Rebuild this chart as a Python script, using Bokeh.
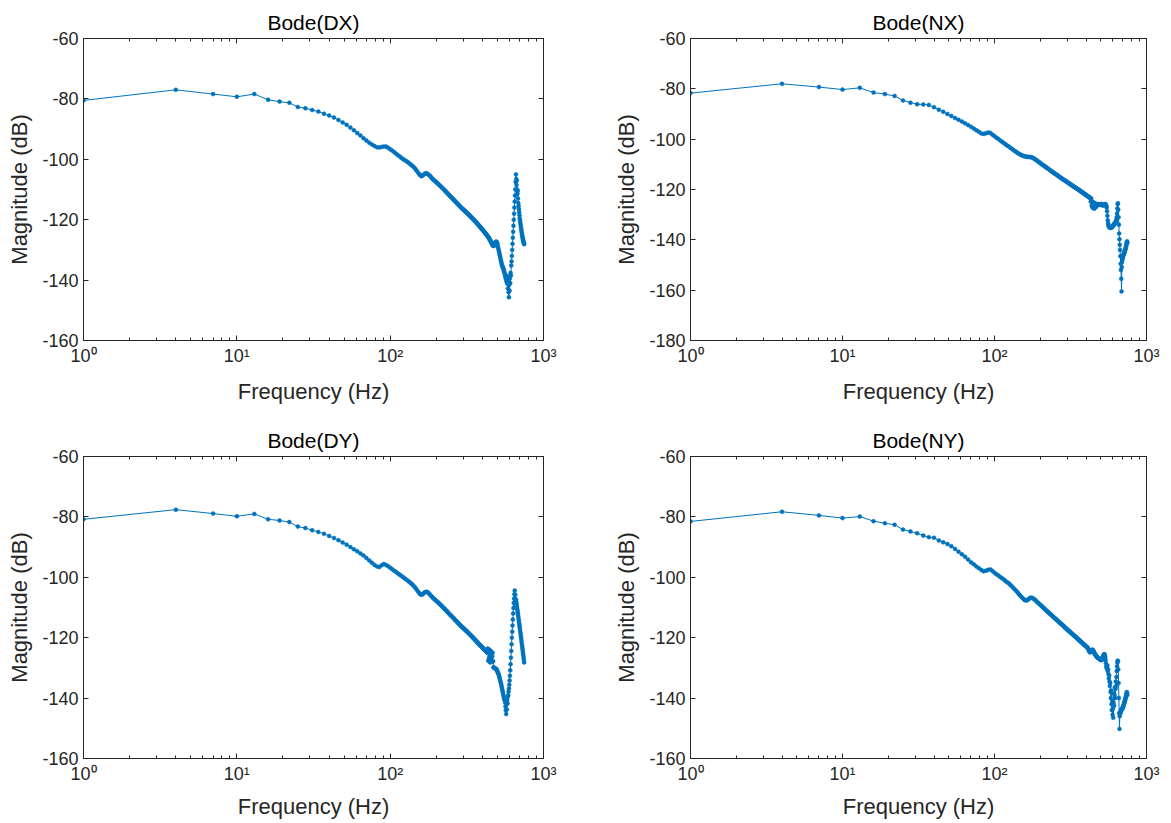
from bokeh.plotting import figure
from bokeh.layouts import gridplot
from bokeh.models import Range1d, FixedTicker, LogAxis, LinearAxis, Title, ColumnDataSource
from bokeh.embed import file_html
from bokeh.resources import INLINE

# ---------------- data ----------------
freq = [
    1, 4, 7, 10, 13, 16, 19, 22, 25, 28,
    31, 34, 37, 40, 43, 46, 49, 52, 55, 58,
    61, 64, 67, 70, 73, 76, 79, 82, 85, 88,
    91, 94, 97, 100, 103, 106, 109, 112, 115, 118,
    121, 124, 127, 130, 133, 136, 139, 142, 145, 148,
    151, 154, 157, 160, 163, 166, 169, 172, 175, 178,
    181, 184, 187, 190, 193, 196, 199, 202, 205, 208,
    211, 214, 217, 220, 223, 226, 229, 232, 235, 238,
    241, 244, 247, 250, 253, 256, 259, 262, 265, 268,
    271, 274, 277, 280, 283, 286, 289, 292, 295, 298,
    301, 304, 307, 310, 313, 316, 319, 322, 325, 328,
    331, 334, 337, 340, 343, 346, 349, 352, 355, 358,
    361, 364, 367, 370, 373, 376, 379, 382, 385, 388,
    391, 394, 397, 400, 403, 406, 409, 412, 415, 418,
    421, 424, 427, 430, 433, 436, 439, 442, 445, 448,
    451, 454, 457, 460, 463, 466, 469, 472, 475, 478,
    481, 484, 487, 490, 493, 496, 499, 502, 505, 508,
    511, 514, 517, 520, 523, 526, 529, 532, 535, 538,
    541, 544, 547, 550, 553, 556, 559, 562, 565, 568,
    571, 574, 577, 580, 583, 586, 589, 592, 595, 598,
    601, 604, 607, 610, 613, 616, 619, 622, 625, 628,
    631, 634, 637, 640, 643, 646, 649, 652, 655, 658,
    661, 664, 667, 670, 673, 676, 679, 682, 685, 688,
    691, 694, 697, 700, 703, 706, 709, 712, 715, 718,
    721, 724, 727, 730, 733, 736, 739, 742, 745, 748,
]

mag_dx = [
    -80.5, -77.0, -78.4, -79.3, -78.4, -80.3, -80.9, -81.3, -82.7, -83.1,
    -83.7, -84.2, -84.9, -85.5, -86.2, -87.0, -87.8, -88.6, -89.5, -90.4,
    -91.3, -92.1, -93.0, -93.8, -94.5, -95.1, -95.6, -96.0, -96.1, -95.9,
    -95.8, -95.8, -96.2, -96.7, -97.1, -97.6, -98.1, -98.6, -99.0, -99.5,
    -99.9, -100.2, -100.6, -100.9, -101.3, -101.7, -102.1, -102.5, -103.0, -103.6,
    -104.2, -104.8, -105.3, -105.6, -105.4, -105.0, -104.7, -104.6, -104.8, -105.1,
    -105.4, -105.8, -106.2, -106.6, -106.9, -107.2, -107.5, -107.8, -108.1, -108.4,
    -108.7, -109.0, -109.3, -109.6, -109.9, -110.2, -110.5, -110.8, -111.1, -111.4,
    -111.7, -112.0, -112.3, -112.5, -112.8, -113.1, -113.3, -113.6, -113.9, -114.1,
    -114.4, -114.6, -114.9, -115.1, -115.4, -115.6, -115.9, -116.1, -116.3, -116.5,
    -116.7, -116.9, -117.1, -117.3, -117.5, -117.7, -117.9, -118.1, -118.3, -118.5,
    -118.7, -118.9, -119.1, -119.3, -119.5, -119.7, -119.9, -120.1, -120.3, -120.5,
    -120.7, -120.9, -121.1, -121.3, -121.5, -121.7, -121.9, -122.1, -122.3, -122.5,
    -122.7, -122.9, -123.1, -123.3, -123.5, -123.7, -123.9, -124.1, -124.3, -124.5,
    -124.7, -124.9, -125.1, -125.3, -125.5, -125.7, -125.9, -126.2, -126.5, -126.8,
    -127.0, -127.3, -127.6, -127.9, -128.2, -128.4, -128.6, -128.7, -128.6, -128.3,
    -127.9, -127.6, -127.4, -127.3, -127.3, -127.5, -127.9, -128.4, -129.0, -129.6,
    -130.2, -130.8, -131.4, -132.0, -132.6, -133.2, -133.8, -134.3, -134.8, -135.3,
    -135.6, -135.9, -136.2, -136.6, -137.0, -137.5, -138.0, -138.5, -139.0, -139.4,
    -139.8, -140.5, -138.6, -141.2, -139.0, -142.8, -140.2, -144.0, -145.7, -141.5,
    -143.5, -139.5, -141.0, -137.6, -138.5, -135.2, -133.8, -132.0, -130.0, -128.0,
    -126.0, -124.0, -122.0, -120.0, -118.0, -116.0, -114.0, -112.0, -110.0, -107.5,
    -105.0, -106.5, -108.5, -107.0, -110.0, -111.5, -110.5, -113.0, -114.5, -115.5,
    -116.5, -117.5, -118.5, -119.5, -120.3, -121.0, -121.7, -122.4, -123.0, -123.6,
    -124.2, -124.8, -125.3, -125.8, -126.3, -126.7, -127.1, -127.5, -127.8, -128.1,
]

mag_nx = [
    -81.7, -78.0, -79.3, -80.3, -79.6, -81.5, -82.1, -82.8, -84.6, -85.5,
    -86.1, -86.2, -86.4, -87.3, -88.3, -89.1, -90.0, -90.8, -91.6, -92.3,
    -93.0, -93.7, -94.4, -95.1, -95.8, -96.5, -97.1, -97.7, -97.9, -97.6,
    -97.4, -97.5, -98.2, -98.8, -99.4, -99.9, -100.5, -101.0, -101.5, -102.0,
    -102.5, -102.9, -103.4, -103.8, -104.3, -104.7, -105.1, -105.5, -105.8, -106.1,
    -106.4, -106.6, -106.8, -106.9, -107.0, -107.0, -107.1, -107.1, -107.2, -107.4,
    -107.6, -107.9, -108.2, -108.5, -108.8, -109.1, -109.4, -109.7, -110.0, -110.3,
    -110.5, -110.8, -111.1, -111.3, -111.6, -111.8, -112.1, -112.3, -112.6, -112.8,
    -113.0, -113.3, -113.5, -113.7, -113.9, -114.1, -114.3, -114.6, -114.8, -115.0,
    -115.2, -115.4, -115.6, -115.8, -116.0, -116.2, -116.3, -116.5, -116.7, -116.9,
    -117.1, -117.2, -117.4, -117.6, -117.8, -117.9, -118.1, -118.3, -118.4, -118.6,
    -118.8, -118.9, -119.1, -119.2, -119.4, -119.5, -119.7, -119.8, -120.0, -120.1,
    -120.3, -120.4, -120.6, -120.7, -120.9, -121.0, -121.2, -121.3, -121.5, -121.6,
    -121.8, -121.9, -122.0, -122.2, -122.3, -122.5, -122.6, -122.7, -122.9, -123.0,
    -123.1, -123.3, -123.4, -124.8, -123.6, -126.5, -125.2, -127.3, -125.0, -126.8,
    -126.0, -127.6, -125.4, -126.5, -126.0, -127.0, -125.8, -126.4, -125.9, -126.2,
    -126.0, -125.8, -125.9, -126.0, -126.1, -126.0, -125.9, -125.8, -125.8, -125.9,
    -126.2, -126.3, -126.3, -126.2, -126.2, -126.1, -126.0, -125.9, -125.8, -126.0,
    -126.2, -126.5, -127.2, -128.6, -130.4, -132.2, -133.4, -134.2, -134.6, -134.8,
    -135.0, -135.1, -135.2, -135.2, -135.2, -135.1, -135.0, -134.9, -134.8, -134.6,
    -134.4, -134.3, -134.2, -134.0, -133.8, -133.6, -133.4, -133.2, -133.0, -132.8,
    -132.5, -132.0, -131.0, -129.5, -127.5, -125.8, -125.5, -128.0, -131.0, -134.0,
    -137.5, -139.8, -142.0, -144.0, -146.5, -149.5, -152.0, -155.5, -160.5, -150.8,
    -148.8, -147.8, -147.2, -146.7, -146.3, -145.9, -145.6, -145.3, -145.0, -144.7,
    -144.4, -144.0, -143.6, -143.2, -142.7, -142.2, -141.6, -141.0, -140.6, -141.2,
]

mag_dy = [
    -80.8, -77.6, -78.9, -79.8, -79.0, -80.8, -81.2, -81.7, -83.2, -83.7,
    -84.4, -85.0, -85.6, -86.3, -87.0, -87.7, -88.5, -89.2, -90.0, -90.7,
    -91.4, -92.1, -92.8, -93.6, -94.4, -95.2, -95.9, -96.4, -96.6, -96.0,
    -95.6, -95.9, -96.3, -96.8, -97.3, -97.8, -98.2, -98.7, -99.1, -99.5,
    -99.9, -100.3, -100.7, -101.1, -101.5, -101.9, -102.3, -102.8, -103.3, -103.9,
    -104.5, -105.1, -105.6, -105.8, -105.6, -105.2, -104.9, -104.8, -104.9, -105.2,
    -105.6, -106.0, -106.4, -106.8, -107.1, -107.4, -107.7, -108.0, -108.3, -108.6,
    -108.9, -109.2, -109.5, -109.8, -110.1, -110.4, -110.7, -111.0, -111.3, -111.6,
    -111.9, -112.2, -112.5, -112.7, -113.0, -113.3, -113.5, -113.8, -114.1, -114.3,
    -114.6, -114.8, -115.1, -115.3, -115.6, -115.8, -116.1, -116.3, -116.5, -116.7,
    -116.9, -117.1, -117.3, -117.5, -117.7, -117.9, -118.1, -118.3, -118.5, -118.7,
    -118.9, -119.1, -119.3, -119.5, -119.7, -119.9, -120.1, -120.3, -120.5, -120.7,
    -120.9, -121.1, -121.3, -121.5, -121.7, -121.9, -122.1, -122.3, -122.5, -122.6,
    -122.8, -123.0, -123.1, -123.3, -123.5, -123.6, -123.8, -124.0, -124.1, -124.3,
    -124.4, -124.6, -124.8, -125.0, -123.6, -127.6, -124.4, -126.8, -124.0, -128.2,
    -125.2, -127.4, -124.6, -128.0, -126.2, -125.0, -127.8, -129.8, -129.9, -130.0,
    -130.1, -130.2, -130.3, -130.4, -130.5, -130.7, -131.0, -131.3, -131.6, -131.9,
    -132.3, -132.8, -133.3, -133.8, -134.3, -134.8, -135.3, -135.9, -136.5, -137.1,
    -137.7, -138.3, -138.9, -139.5, -139.9, -140.3, -140.7, -141.5, -142.8, -144.0,
    -145.3, -141.5, -143.8, -140.6, -141.8, -139.5, -139.0, -137.8, -136.8, -135.6,
    -134.2, -132.6, -130.8, -128.8, -126.6, -124.4, -122.2, -120.0, -118.0, -116.0,
    -114.0, -112.0, -110.2, -108.5, -107.0, -105.6, -104.4, -108.0, -105.8, -109.5,
    -107.3, -108.0, -108.7, -109.4, -110.2, -110.9, -111.6, -112.3, -113.0, -113.8,
    -114.5, -115.2, -115.9, -116.6, -117.4, -118.1, -118.8, -119.5, -120.2, -121.0,
    -121.7, -122.4, -123.1, -123.8, -124.6, -125.3, -126.0, -126.7, -127.4, -128.2,
]

mag_ny = [
    -81.5, -78.3, -79.5, -80.4, -79.9, -81.4, -82.1, -82.6, -84.2, -84.8,
    -85.4, -86.2, -86.7, -86.9, -87.8, -88.4, -89.0, -89.7, -90.6, -91.5,
    -92.4, -93.2, -94.1, -95.0, -95.7, -96.4, -97.0, -97.6, -98.0, -97.8,
    -97.5, -97.4, -97.9, -98.5, -99.0, -99.4, -99.9, -100.3, -100.7, -101.2,
    -101.6, -102.0, -102.5, -103.0, -103.5, -104.0, -104.5, -105.0, -105.6, -106.1,
    -106.6, -107.0, -107.4, -107.6, -107.7, -107.4, -107.0, -106.8, -106.8, -106.9,
    -107.1, -107.4, -107.7, -108.1, -108.4, -108.7, -109.0, -109.3, -109.6, -109.9,
    -110.2, -110.5, -110.8, -111.1, -111.3, -111.6, -111.9, -112.1, -112.4, -112.6,
    -112.9, -113.1, -113.4, -113.6, -113.8, -114.1, -114.3, -114.5, -114.8, -115.0,
    -115.2, -115.4, -115.6, -115.8, -116.0, -116.2, -116.5, -116.7, -116.9, -117.1,
    -117.3, -117.5, -117.7, -117.8, -118.0, -118.2, -118.4, -118.6, -118.8, -118.9,
    -119.1, -119.3, -119.5, -119.6, -119.8, -120.0, -120.2, -120.3, -120.5, -120.7,
    -120.8, -121.0, -121.2, -121.3, -121.5, -121.6, -121.8, -122.0, -122.1, -122.3,
    -122.4, -122.6, -122.7, -122.9, -123.0, -123.2, -123.3, -123.5, -123.8, -124.2,
    -124.6, -124.8, -124.8, -124.6, -124.3, -124.1, -124.0, -124.0, -124.2, -124.5,
    -124.8, -125.1, -125.4, -125.6, -125.8, -126.0, -126.2, -126.4, -126.5, -126.6,
    -126.7, -126.8, -126.9, -127.0, -127.1, -127.2, -127.3, -127.4, -127.4, -127.3,
    -127.1, -126.8, -126.4, -126.0, -125.7, -125.5, -125.5, -125.8, -126.5, -127.5,
    -128.5, -129.5, -130.0, -130.3, -129.2, -131.0, -130.5, -132.0, -133.5, -132.5,
    -134.5, -136.0, -135.0, -138.0, -140.0, -137.5, -142.0, -144.0, -141.0, -145.5,
    -143.5, -146.5, -141.5, -138.5, -142.5, -139.0, -136.5, -140.0, -137.0, -134.5,
    -136.0, -133.0, -131.0, -129.5, -128.3, -127.6, -127.8, -130.5, -135.0, -140.0,
    -145.0, -150.2, -146.0, -144.8, -145.0, -144.6, -144.2, -144.0, -143.9, -143.8,
    -143.6, -143.4, -143.2, -143.0, -142.7, -142.4, -142.1, -141.8, -141.5, -141.2,
    -140.9, -140.6, -140.2, -139.8, -139.4, -139.0, -138.5, -138.0, -138.4, -139.0,
]

titles = ["Bode(DX)", "Bode(NX)", "Bode(DY)", "Bode(NY)"]
x_label = "Frequency (Hz)"
y_label = "Magnitude (dB)"
x_tick_values = [1, 10, 100, 1000]
x_tick_labels = ["10\u2070", "10\u00b9", "10\u00b2", "10\u00b3"]
y_ticks_std = [-160, -140, -120, -100, -80, -60]
y_ticks_nx = [-180, -160, -140, -120, -100, -80, -60]

# ---------------- styling ----------------
FONT = "Liberation Sans"
BLUE = "#0072BD"
AX = "#262626"
x_minor = [m * 10 ** e for e in range(3) for m in range(2, 10)]


def style_axis(ax, show_labels=True):
    ax.axis_line_color = AX
    ax.axis_line_width = 1
    ax.major_tick_line_color = AX
    ax.minor_tick_line_color = AX
    ax.major_tick_in = 5
    ax.major_tick_out = 0
    ax.minor_tick_in = 3
    ax.minor_tick_out = 0
    ax.major_label_text_font = FONT
    ax.major_label_text_color = AX
    if show_labels:
        ax.major_label_text_font_size = "18px"
    else:
        ax.major_label_text_font_size = "0px"
        ax.major_label_standoff = 0
    ax.axis_label_text_font = FONT
    ax.axis_label_text_font_size = "22px"
    ax.axis_label_text_font_style = "normal"
    ax.axis_label_text_color = AX


def make_panel(title, mags, yticks, width, height, left_border, right_border,
               top_border, bottom_border, xlab_standoff):
    p = figure(
        width=width, height=height,
        x_axis_type="log",
        x_range=Range1d(1, 1000),
        y_range=Range1d(yticks[0], yticks[-1]),
        output_backend="svg", toolbar_location=None,
        min_border_left=left_border, min_border_right=right_border,
        min_border_top=top_border, min_border_bottom=bottom_border,
        background_fill_color="white", border_fill_color="white",
    )
    p.outline_line_color = AX
    p.outline_line_width = 1
    p.grid.visible = False

    xt = dict(zip(x_tick_values, x_tick_labels))
    yt = {t: str(t) for t in yticks}

    xa = p.xaxis[0]
    xa.ticker = FixedTicker(ticks=x_tick_values, minor_ticks=x_minor)
    xa.major_label_overrides = xt
    xa.axis_label = x_label
    xa.axis_label_standoff = xlab_standoff
    style_axis(xa)

    ya = p.yaxis[0]
    ya.ticker = FixedTicker(ticks=yticks, minor_ticks=[])
    ya.major_label_overrides = yt
    ya.axis_label = y_label
    ya.axis_label_standoff = 7
    style_axis(ya)

    top = LogAxis(ticker=FixedTicker(ticks=x_tick_values, minor_ticks=x_minor),
                  major_label_overrides={t: "" for t in x_tick_values})
    style_axis(top, show_labels=False)
    p.add_layout(top, "above")

    right = LinearAxis(ticker=FixedTicker(ticks=yticks, minor_ticks=[]),
                       major_label_overrides={t: "" for t in yticks})
    style_axis(right, show_labels=False)
    p.add_layout(right, "right")

    t = Title(text=title, align="center", text_font=FONT, text_font_size="21px",
              text_font_style="normal", text_color="#000000", standoff=10)
    p.add_layout(t, "above")

    src = ColumnDataSource(dict(f=freq, m=mags))
    p.line("f", "m", source=src, line_color=BLUE, line_width=1)
    p.scatter("f", "m", source=src, marker="circle", size=4,
              fill_color=BLUE, line_color=BLUE, line_width=0.5)
    return p


p1 = make_panel(titles[0], mag_dx, y_ticks_std, 611, 420, 83, 68, 38, 80, 10)
p2 = make_panel(titles[1], mag_nx, y_ticks_nx, 552, 420, 75, 17, 38, 80, 10)
p3 = make_panel(titles[2], mag_dy, y_ticks_std, 611, 401, 83, 68, 36, 63, 7)
p4 = make_panel(titles[3], mag_ny, y_ticks_std, 552, 401, 75, 17, 36, 63, 7)

grid = gridplot([[p1, p2], [p3, p4]], toolbar_location=None)

with open("out.html", "w") as fh:
    fh.write(file_html(grid, INLINE))
